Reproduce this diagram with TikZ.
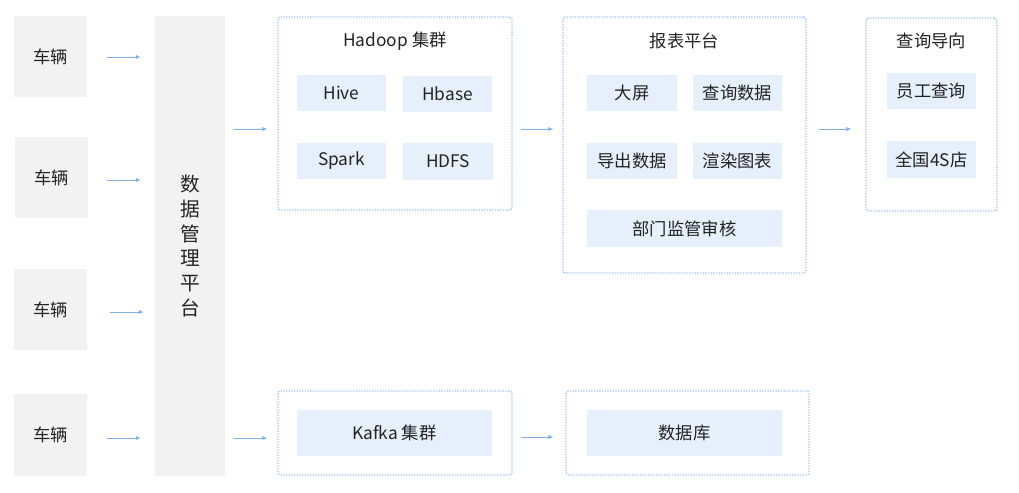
\documentclass[tikz,border=0pt]{standalone}
\usepackage{fontspec}
\setmainfont{Noto Sans CJK SC}
\usepackage{xcolor}
\usetikzlibrary{calc,arrows.meta,positioning}
\definecolor{platGray}{RGB}{242,242,242}
\definecolor{tileBlue}{RGB}{230,239,252}
\definecolor{edgeBlue}{RGB}{155,193,245}
\definecolor{flowBlue}{RGB}{128,174,240}
\definecolor{txtGray}{RGB}{35,35,35}

\begin{document}
\begin{tikzpicture}[x=0.025cm, y=-0.025cm,
  every node/.style={text=txtGray, font=\fontsize{12.3}{15}\selectfont, inner sep=0pt},
  car/.style={fill=platGray, minimum width=1.825cm, minimum height=2.025cm},
  tile/.style={fill=tileBlue, minimum width=2.225cm, minimum height=0.9cm},
  widetile/.style={fill=tileBlue, minimum width=4.875cm, minimum height=0.925cm},
  group/.style={draw=edgeBlue, densely dotted, line width=0.9pt, rounded corners=2pt},
  flow/.style={flowBlue, line width=0.6pt, -{Latex[length=3.5pt,width=3pt]}}]
\useasboundingbox (0,0) rectangle (1019,493);

% vehicles and platform
\node[car] (car1) at (50.5,56.5) {车辆};
\node[car] (car2) at (51.5,177.5) {车辆};
\node[car] (car3) at (50.5,309.5) {车辆};
\node[car] (car4) at (50.5,435) {车辆};
\node[fill=platGray, minimum width=1.75cm, minimum height=11.5cm, align=center,
  font=\fontsize{14}{17.5}\selectfont] (plat) at (190,246) {数\\据\\管\\理\\平\\台};

% hadoop
\node[group, minimum width=5.85cm, minimum height=4.825cm] (hadoop) at (395,113.5) {};
\node (hadoopT) at (395,41) {Hadoop 集群};
\node[tile] (hive) at (341.5,93) {Hive};
\node[tile] (hbase) at (447.5,94) {Hbase};
\node[tile] (spark) at (341.5,161) {Spark};
\node[tile] (hdfs) at (448,161.5) {HDFS};

% report
\node[group, minimum width=6.075cm, minimum height=6.4cm] (report) at (684.5,145) {};
\node (reportT) at (684.5,41) {报表平台};
\node[tile] (screen) at (632,93) {大屏};
\node[tile] (querydata) at (737.5,93) {查询数据};
\node[tile] (export) at (632,161) {导出数据};
\node[tile] (render) at (737.5,161) {渲染图表};
\node[widetile] (audit) at (684.5,228.5) {部门监管审核};

% query
\node[group, minimum width=3.275cm, minimum height=4.825cm] (query) at (931.5,114.5) {};
\node (queryT) at (931.5,41) {查询导向};
\node[tile] (staff) at (931.5,91) {员工查询};
\node[tile] (shops) at (931.5,159.5) {全国4S店};

% kafka and database
\node[group, minimum width=5.85cm, minimum height=2.1cm] (kafka) at (395,433) {};
\node[widetile, minimum height=1.15cm] (kafkaIn) at (394.5,433) {Kafka 集群};
\node[group, minimum width=6.075cm, minimum height=2.1cm] (db) at (687.5,433) {};
\node[widetile, minimum height=1.15cm] (dbIn) at (684.5,433) {数据库};

% arrows
\coordinate (rowA) at (0,129);
\coordinate (rowB) at (0,438);
\draw[flow, shorten <=0.5cm, shorten >=0.35cm] (car1.east |- 0,57) -- (plat.west |- 0,57);
\draw[flow, shorten <=0.475cm, shorten >=0.35cm] (car2.east |- 0,180) -- (plat.west |- 0,180);
\draw[flow, shorten <=0.575cm, shorten >=0.275cm] (car3.east |- 0,312) -- (plat.west |- 0,312);
\draw[flow, shorten <=0.5cm, shorten >=0.35cm] (car4.east |- rowB) -- (plat.west |- rowB);
\draw[flow, shorten <=0.225cm, shorten >=0.25cm] (plat.east |- rowA) -- (hadoop.west |- rowA);
\draw[flow, shorten <=0.225cm, shorten >=0.25cm] (plat.east |- rowB) -- (kafka.west |- rowB);
\draw[flow, shorten <=0.2cm, shorten >=0.225cm] (hadoop.east |- rowA) -- (report.west |- rowA);
\draw[flow, shorten <=0.3cm, shorten >=0.35cm] (report.east |- rowA) -- (query.west |- rowA);
\draw[flow, shorten <=0.2cm, shorten >=0.3cm] (kafka.east |- 0,437) -- (db.west |- 0,437);
\end{tikzpicture}
\end{document}
